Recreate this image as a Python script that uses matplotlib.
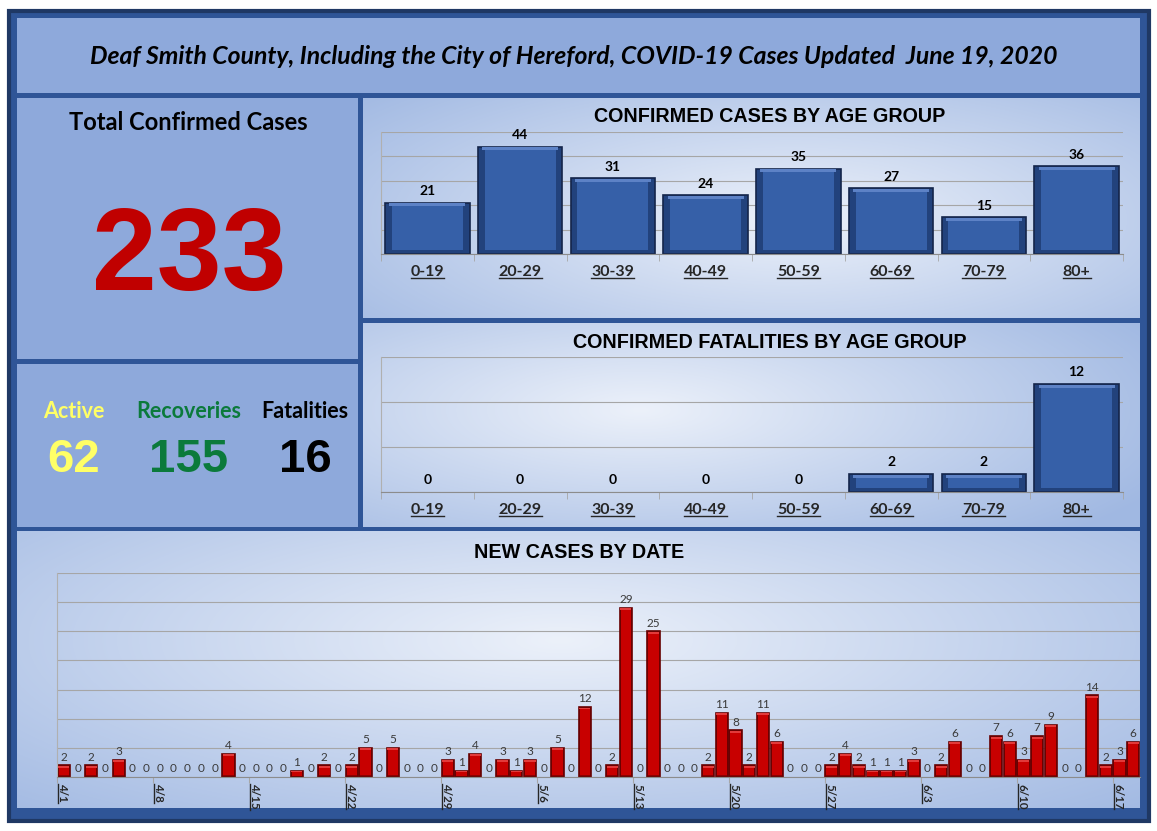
import numpy as np
import matplotlib
import matplotlib.pyplot as plt
from matplotlib.patches import Rectangle
from matplotlib.lines import Line2D
from matplotlib.transforms import IdentityTransform

age_groups = ['0-19', '20-29', '30-39', '40-49', '50-59', '60-69', '70-79', '80+']
cases_by_age = [21, 44, 31, 24, 35, 27, 15, 36]
deaths_by_age = [0, 0, 0, 0, 0, 2, 2, 12]

# daily new cases 4/1 .. 6/18
new_cases = [2, 0, 2, 0, 3, 0, 0, 0, 0, 0, 0, 0, 4, 0, 0, 0, 0, 1, 0, 2,
             0, 2, 5, 0, 5, 0, 0, 0, 3, 1, 4, 0, 3, 1, 3, 0, 5, 0, 12, 0,
             2, 29, 0, 25, 0, 0, 0, 2, 11, 8, 2, 11, 6, 0, 0, 0, 2, 4, 2, 1,
             1, 1, 3, 0, 2, 6, 0, 0, 7, 6, 3, 7, 9, 0, 0, 14, 2, 3, 6]
date_ticks = ['4/1', '4/8', '4/15', '4/22', '4/29', '5/6', '5/13', '5/20',
              '5/27', '6/3', '6/10', '6/17']

total_cases = 233
active, recoveries, fatalities = 62, 155, 16

W, H = 1157, 831
fig = plt.figure(figsize=(W / 100, H / 100), dpi=100)
fig.patch.set_facecolor('white')

bg = fig.add_axes([0, 0, 1, 1])
bg.set_xlim(0, W)
bg.set_ylim(H, 0)
bg.axis('off')

PANEL = '#8EA9DB'
BORDER = '#2F5597'

bg.add_patch(Rectangle((9, 11), 1140, 810, facecolor=BORDER, edgecolor='#1F3864', lw=3))


def flat_panel(x0, y0, x1, y1):
    bg.add_patch(Rectangle((x0, y0), x1 - x0, y1 - y0, facecolor=PANEL, edgecolor='none'))


def grad_panel(x0, y0, x1, y1, cx, cy):
    w, h = int(x1 - x0), int(y1 - y0)
    xx, yy = np.meshgrid(np.linspace(x0, x1, w), np.linspace(y0, y1, h))
    r = np.sqrt(((xx - cx) / (w * 0.75)) ** 2 + ((yy - cy) / (h * 0.9)) ** 2)
    t = np.clip(r, 0, 1)[..., None]
    c_in = np.array([236, 241, 250]) / 255
    c_out = np.array([160, 184, 226]) / 255
    img = c_in * (1 - t) + c_out * t
    bg.imshow(img, extent=(x0, x1, y1, y0), aspect='auto', interpolation='bilinear', zorder=1)


flat_panel(17, 18, 1140, 93)
flat_panel(17, 98, 358, 359)
flat_panel(17, 364, 358, 527)
grad_panel(363, 98, 1140, 318, 790, 220)
grad_panel(363, 323, 1140, 527, 640, 410)
grad_panel(17, 531, 1140, 808, 560, 640)
bg.set_xlim(0, W)
bg.set_ylim(H, 0)

calibri = ['Lato', 'DejaVu Sans']
arial = ['Liberation Sans', 'DejaVu Sans']

bg.text(574, 57, 'Deaf Smith County, Including the City of Hereford, COVID-19 Cases Updated  June 19, 2020',
        ha='center', va='center', fontsize=17.8, fontstyle='italic', fontweight='bold', family=calibri, zorder=3)
bg.text(188, 123, 'Total Confirmed Cases', ha='center', va='center', fontsize=17,
        fontweight='bold', family=calibri, zorder=3)
bg.text(189, 290, str(total_cases), ha='center', va='baseline', fontsize=84,
        fontweight='bold', family=arial, color='#C00000', zorder=3)

for cx, lab, val, col in [(74, 'Active', active, '#FFFF66'),
                          (189, 'Recoveries', recoveries, '#0B7A3B'),
                          (305, 'Fatalities', fatalities, 'black')]:
    bg.text(cx, 411, lab, ha='center', va='center', fontsize=15.5, fontweight='bold',
            family=calibri, color=col, zorder=3)
    bg.text(cx, 472, str(val), ha='center', va='baseline', fontsize=34, fontweight='bold',
            family=arial, color=col, zorder=3)

bg.text(770, 117, 'CONFIRMED CASES BY AGE GROUP', ha='center', va='center', fontsize=14.2,
        fontweight='bold', family=arial, zorder=3)
bg.text(770, 342, 'CONFIRMED FATALITIES BY AGE GROUP', ha='center', va='center', fontsize=14.2,
        fontweight='bold', family=arial, zorder=3)
bg.text(579, 553, 'NEW CASES BY DATE', ha='center', va='center', fontsize=14.2,
        fontweight='bold', family=arial, zorder=3)


def px_axes(x0, y0, x1, y1):
    ax = fig.add_axes([x0 / W, 1 - y1 / H, (x1 - x0) / W, (y1 - y0) / H])
    ax.set_facecolor('none')
    for s in ['top', 'right']:
        ax.spines[s].set_visible(False)
    ax.spines['left'].set_color('#B0B0B0')
    ax.spines['bottom'].set_color('#8C8C8C')
    ax.set_axisbelow(True)
    ax.yaxis.grid(True, color='#A6A6A6', lw=0.8)
    ax.tick_params(axis='y', length=0, labelleft=False)
    return ax


def bevel_bars(ax, x, values, width, face, dark, light, edge, bevel):
    # plain bar plus an inset face and a lighter top strip, for the 3D look
    v = np.asarray(values, dtype=float)
    ec = [edge if h > 0 else 'none' for h in v]
    outer = ax.bar(x, v, width=width, color=dark, edgecolor=ec, lw=1.2)
    d = np.minimum(bevel, v * 0.22)
    ax.bar(x, v - 2 * d, width=width * 0.84, bottom=d, color=face, lw=0)
    ax.bar(x, d * 0.8, width=width * 0.9, bottom=v - d, color=light, lw=0)
    return outer


def age_chart(ax, values, ymax, step):
    x = np.arange(len(values))
    bars = bevel_bars(ax, x, values, 0.91, '#3660A8', '#22427C', '#5D82C6', '#14254A', ymax * 0.03)
    ax.set_xlim(-0.5, len(values) - 0.5)
    ax.set_ylim(0, ymax)
    ax.set_yticks(np.arange(0, ymax + 1, step))
    ax.set_xticks(x)
    ax.set_xticklabels(age_groups, fontsize=11.5, fontweight='bold', family=calibri, color='#262626')
    ax.set_xticks(np.arange(-0.5, len(values)), minor=True)
    ax.tick_params(axis='x', which='major', length=0, pad=8)
    ax.tick_params(axis='x', which='minor', length=5, color='#A6A6A6')
    ax.bar_label(bars, padding=4, fontsize=10, fontweight='bold', family=calibri)
    return ax


ax1 = age_chart(px_axes(381, 132, 1123, 254), cases_by_age, 50, 10)
ax2 = age_chart(px_axes(381, 357, 1123, 492), deaths_by_age, 15, 5)

ax3 = px_axes(57, 573, 1140, 777)
xd = np.arange(len(new_cases))
bars = bevel_bars(ax3, xd, new_cases, 0.9, '#C80000', '#8E0000', '#E23A3A', '#660000', 0.4)
ax3.set_xlim(-0.5, len(new_cases) - 0.5)
ax3.set_ylim(0, 35)
ax3.set_yticks(np.arange(0, 36, 5))
ax3.set_xticks(np.arange(0, len(new_cases), 7)[:len(date_ticks)] - 0.5)
ax3.set_xticklabels(date_ticks, rotation=-90, ha='left', va='top', fontsize=8.3,
                    fontweight='bold', family=calibri, color='#262626')
ax3.tick_params(axis='x', length=4, color='#A6A6A6', pad=1)
ax3.bar_label(bars, padding=2, fontsize=8.5, family=calibri, color='#3A3A3A')

# underline the category / date labels like the original
fig.canvas.draw()
rend = fig.canvas.get_renderer()
for ax in [ax1, ax2]:
    for lbl in ax.get_xticklabels():
        bb = lbl.get_window_extent(rend)
        fig.add_artist(Line2D([bb.x0, bb.x1], [bb.y0 + 1, bb.y0 + 1], color='#262626', lw=1,
                              transform=IdentityTransform()))
for lbl in ax3.get_xticklabels():
    bb = lbl.get_window_extent(rend)
    fig.add_artist(Line2D([bb.x0 + 1, bb.x0 + 1], [bb.y0, bb.y1], color='#262626', lw=1,
                          transform=IdentityTransform()))

fig.savefig('out.png', dpi=100)
